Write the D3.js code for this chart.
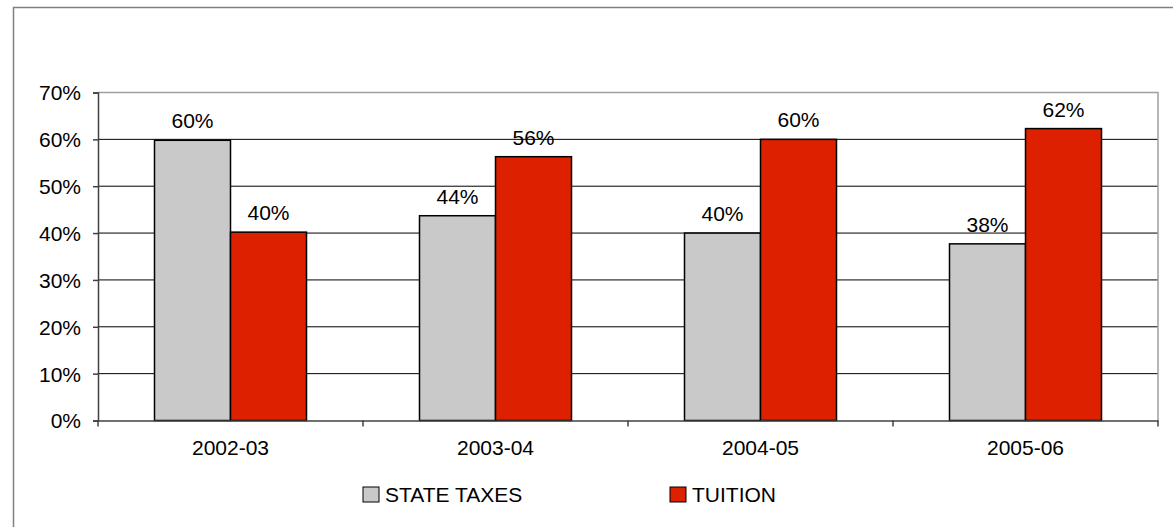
<!DOCTYPE html>
<meta charset="utf-8">
<script src="https://d3js.org/d3.v7.min.js"></script>
<style>
  body { margin: 0; background: #fff; }
  text { font-family: "Liberation Sans", Arial, sans-serif; fill: #000; }
</style>
<div id="chart"></div>
<script>
  var years = ["2002-03", "2003-04", "2004-05", "2005-06"];
  var seriesNames = ["STATE TAXES", "TUITION"];
  var stateTaxes = [59.8, 43.7, 40.0, 37.7];
  var tuition = [40.2, 56.3, 60.0, 62.3];
  var yTicks = [0, 10, 20, 30, 40, 50, 60, 70];

  var width = 1173, height = 527;
  var plotLeft = 98, plotRight = 1158, plotTop = 92.5, plotBottom = 420.5;
  var fontSize = 21;
  var colors = ["#c9c9c9", "#dd2000"];

  var svg = d3.select("#chart").append("svg")
    .attr("width", width)
    .attr("height", height);

  // outer frame
  svg.append("rect")
    .attr("x", 13.5).attr("y", 7.5)
    .attr("width", 1200).attr("height", 600)
    .attr("fill", "none")
    .attr("stroke", "#808080")
    .attr("stroke-width", 1.5);

  var x0 = d3.scaleBand().domain(years).range([plotLeft, plotRight]).padding(0);
  var gap = (x0.bandwidth() - 152) / 2;
  var x1 = d3.scaleBand().domain(seriesNames).range([gap, x0.bandwidth() - gap]).padding(0);
  var y = d3.scaleLinear().domain([0, 70]).range([plotBottom, plotTop]);

  // gridlines
  svg.append("g").selectAll("line")
    .data(yTicks.slice(1, -1))
    .enter().append("line")
    .attr("x1", plotLeft).attr("x2", plotRight)
    .attr("y1", function (d) { return y(d); })
    .attr("y2", function (d) { return y(d); })
    .attr("stroke", "#000")
    .attr("stroke-width", 1);

  // plot border top/right
  svg.append("path")
    .attr("d", "M" + plotLeft + "," + plotTop + "H" + plotRight + "V" + plotBottom)
    .attr("fill", "none")
    .attr("stroke", "#a0a0a0")
    .attr("stroke-width", 1.5);

  var data = years.map(function (yr, i) {
    return { year: yr, values: [stateTaxes[i], tuition[i]] };
  });

  var groups = svg.append("g").selectAll("g")
    .data(data)
    .enter().append("g")
    .attr("transform", function (d) { return "translate(" + x0(d.year) + ",0)"; });

  groups.selectAll("rect")
    .data(function (d) { return d.values.map(function (v, j) { return { name: seriesNames[j], value: v, idx: j }; }); })
    .enter().append("rect")
    .attr("x", function (d) { return x1(d.name); })
    .attr("y", function (d) { return y(d.value); })
    .attr("width", x1.bandwidth())
    .attr("height", function (d) { return plotBottom - y(d.value); })
    .attr("fill", function (d) { return colors[d.idx]; })
    .attr("stroke", "#000")
    .attr("stroke-width", 1.5);

  groups.selectAll("text.val")
    .data(function (d) { return d.values.map(function (v, j) { return { name: seriesNames[j], value: v }; }); })
    .enter().append("text")
    .attr("class", "val")
    .attr("x", function (d) { return x1(d.name) + x1.bandwidth() / 2; })
    .attr("y", function (d) { return y(d.value) - 12; })
    .attr("text-anchor", "middle")
    .attr("font-size", fontSize)
    .text(function (d) { return Math.round(d.value) + "%"; });

  // y axis
  var yAxis = svg.append("g")
    .attr("transform", "translate(" + plotLeft + ",0)")
    .call(d3.axisLeft(y).tickValues(yTicks).tickSize(5).tickPadding(12)
      .tickFormat(function (d) { return d + "%"; }));
  yAxis.select(".domain").attr("stroke", "#404040").attr("stroke-width", 1.5);
  yAxis.selectAll(".tick line").attr("stroke", "#404040").attr("stroke-width", 1.5);
  yAxis.selectAll("text").attr("font-size", fontSize).attr("dy", "0.35em")
    .style("font-family", "'Liberation Sans', Arial, sans-serif");

  // x axis
  var xAxis = svg.append("g")
    .attr("transform", "translate(0," + plotBottom + ")")
    .call(d3.axisBottom(x0).tickSize(0).tickPadding(20));
  xAxis.select(".domain").attr("stroke", "#404040").attr("stroke-width", 1.5);
  xAxis.selectAll("text").attr("font-size", fontSize)
    .style("font-family", "'Liberation Sans', Arial, sans-serif");
  xAxis.selectAll("line.sep")
    .data(years.map(function (d) { return x0(d); }).concat([plotRight]))
    .enter().append("line")
    .attr("class", "sep")
    .attr("x1", function (d) { return d; }).attr("x2", function (d) { return d; })
    .attr("y1", 0).attr("y2", 6)
    .attr("stroke", "#404040").attr("stroke-width", 1.5);

  // legend
  var legendX = [363, 670];
  var legend = svg.append("g").selectAll("g")
    .data(seriesNames)
    .enter().append("g")
    .attr("transform", function (d, i) { return "translate(" + legendX[i] + ",487)"; });
  legend.append("rect")
    .attr("width", 16).attr("height", 15)
    .attr("fill", function (d, i) { return colors[i]; })
    .attr("stroke", "#000").attr("stroke-width", 1);
  legend.append("text")
    .attr("x", 22).attr("y", 15)
    .attr("font-size", fontSize)
    .text(function (d) { return d; });
</script>
